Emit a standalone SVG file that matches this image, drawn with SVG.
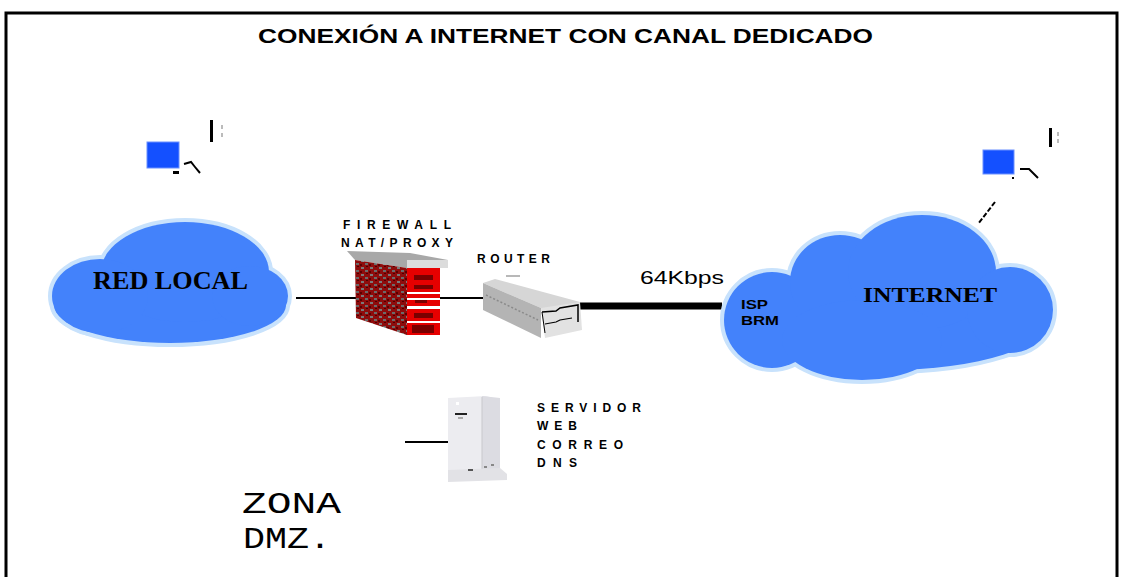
<svg xmlns="http://www.w3.org/2000/svg" width="1122" height="577" viewBox="0 0 1122 577">
  <style>
    .frame { fill: none; stroke: #000; stroke-width: 3; }
    .link { stroke: #000; stroke-width: 2; fill: none; }
    .trunk { stroke: #000; stroke-width: 7; fill: none; }
    .title { font-family: "Liberation Sans", Arial, sans-serif; font-weight: bold; font-size: 20px; fill: #000; }
    .tag { font-family: "Liberation Sans", Arial, sans-serif; font-weight: bold; font-size: 12px; fill: #000; }
    .cloudname { font-family: "Liberation Serif", "Times New Roman", serif; font-weight: bold; fill: #000; }
    .zone { font-family: "Liberation Mono", "Courier New", monospace; font-size: 30px; fill: #000; }
    .halo ellipse { fill: #c8e2fc; stroke: #c8e2fc; stroke-width: 8; }
    .body ellipse { fill: #4382fb; }
    .pc { fill: #1450ff; stroke: #6a90ff; stroke-width: 1; }
  </style>

  <rect class="frame" x="6" y="13" width="1111" height="580"/>

  <text class="title" x="258" y="43" textLength="615" lengthAdjust="spacingAndGlyphs">CONEXIÓN A INTERNET CON CANAL DEDICADO</text>

  <!-- links -->
  <g id="connectors">
    <line class="link" x1="296" y1="298" x2="356" y2="298"/>
    <line class="link" x1="437" y1="298" x2="484" y2="298"/>
    <line class="trunk" x1="578" y1="306" x2="722" y2="306"/>
    <line class="link" x1="405" y1="442" x2="448" y2="442"/>
    <line x1="995" y1="202" x2="978" y2="224" stroke="#000" stroke-width="2" stroke-dasharray="5 2"/>
  </g>

  <!-- local network cloud -->
  <g id="red-local">
    <g class="halo">
      <ellipse cx="170" cy="305" rx="116" ry="38"/>
      <ellipse cx="185" cy="272" rx="84" ry="50"/>
      <ellipse cx="100" cy="296" rx="48" ry="37"/>
      <ellipse cx="250" cy="296" rx="38" ry="30"/>
    </g>
    <g class="body">
      <ellipse cx="170" cy="305" rx="116" ry="38"/>
      <ellipse cx="185" cy="272" rx="84" ry="50"/>
      <ellipse cx="100" cy="296" rx="48" ry="37"/>
      <ellipse cx="250" cy="296" rx="38" ry="30"/>
    </g>
    <text class="cloudname" x="93" y="289" font-size="26" textLength="155" lengthAdjust="spacingAndGlyphs">RED LOCAL</text>
  </g>

  <!-- internet cloud -->
  <g id="internet">
    <g class="halo">
      <ellipse cx="888" cy="318" rx="163" ry="52"/>
      <ellipse cx="772" cy="320" rx="48" ry="48"/>
      <ellipse cx="840" cy="282" rx="50" ry="47"/>
      <ellipse cx="922" cy="272" rx="74" ry="57"/>
      <ellipse cx="1010" cy="310" rx="43" ry="43"/>
      <ellipse cx="862" cy="340" rx="80" ry="40"/>
    </g>
    <g class="body">
      <ellipse cx="888" cy="318" rx="163" ry="52"/>
      <ellipse cx="772" cy="320" rx="48" ry="48"/>
      <ellipse cx="840" cy="282" rx="50" ry="47"/>
      <ellipse cx="922" cy="272" rx="74" ry="57"/>
      <ellipse cx="1010" cy="310" rx="43" ry="43"/>
      <ellipse cx="862" cy="340" rx="80" ry="40"/>
    </g>
    <text class="cloudname" x="863" y="302" font-size="22" textLength="134" lengthAdjust="spacingAndGlyphs">INTERNET</text>
    <text class="tag" x="741" y="309" font-size="10" textLength="27" lengthAdjust="spacingAndGlyphs">ISP</text>
    <text class="tag" x="741" y="325" font-size="10" textLength="38" lengthAdjust="spacingAndGlyphs">BRM</text>
  </g>

  <!-- workstation, local side -->
  <g id="pc-local">
    <rect class="pc" x="147" y="142" width="32" height="26"/>
    <rect x="173" y="171" width="6" height="3" fill="#000"/>
    <polyline points="184,164 191,162 195,167 200,173" fill="none" stroke="#000" stroke-width="2"/>
    <rect x="210" y="120" width="3" height="22" fill="#000"/>
    <rect x="221" y="125" width="2" height="4" fill="#bbb"/>
    <rect x="221" y="133" width="2" height="4" fill="#bbb"/>
  </g>

  <!-- workstation, internet side -->
  <g id="pc-internet">
    <rect class="pc" x="983" y="150" width="31" height="24"/>
    <rect x="1012" y="177" width="2" height="2" fill="#000"/>
    <polyline points="1020,169 1029,169 1033,173 1038,178" fill="none" stroke="#000" stroke-width="2"/>
    <rect x="1049" y="128" width="3" height="19" fill="#000"/>
    <rect x="1057" y="132" width="2" height="4" fill="#bbb"/>
    <rect x="1057" y="139" width="2" height="4" fill="#bbb"/>
  </g>

  <!-- firewall -->
  <g id="firewall">
    <defs>
      <pattern id="brick" width="9" height="7" patternUnits="userSpaceOnUse">
        <rect width="9" height="7" fill="#8e0c0c"/>
        <rect x="1" y="1" width="3" height="2" fill="#7a7a7a"/>
        <rect x="5" y="4" width="3" height="2" fill="#6b6b6b"/>
        <rect x="6" y="0" width="2" height="1" fill="#4a0000"/>
        <rect x="0" y="5" width="2" height="2" fill="#5a0000"/>
      </pattern>
    </defs>
    <text class="tag" x="343" y="229" textLength="108" lengthAdjust="spacing">FIREWALL</text>
    <text class="tag" x="341" y="247" textLength="112" lengthAdjust="spacing">NAT/PROXY</text>
    <polygon points="347,251 410,253 448,260 448,268 407,268 355,260" fill="#a8a8a8"/>
    <polygon points="407,260 448,260 448,268 407,268" fill="#dcdcdc"/>
    <polygon points="355,260 407,268 407,335 356,318" fill="url(#brick)"/>
    <rect x="407" y="268" width="33" height="67" fill="#e60000"/>
    <rect x="414" y="275" width="19" height="5" fill="#7a0000"/>
    <rect x="414" y="285" width="19" height="4" fill="#7a0000"/>
    <rect x="407" y="292" width="33" height="2" fill="#fff"/>
    <rect x="407" y="298" width="33" height="2" fill="#fff"/>
    <rect x="415" y="300" width="12" height="3" fill="#7a0000"/>
    <rect x="407" y="306" width="33" height="3" fill="#fff"/>
    <rect x="414" y="313" width="19" height="5" fill="#7a0000"/>
    <rect x="407" y="321" width="33" height="2" fill="#fff"/>
    <rect x="412" y="325" width="22" height="8" fill="#7a0000"/>
  </g>

  <!-- router -->
  <g id="router">
    <text class="tag" x="477" y="263" textLength="73" lengthAdjust="spacing">ROUTER</text>
    <rect x="506" y="275" width="14" height="2" fill="#b8b8b8"/>
    <polygon points="483,283 495,279 580,302 580,318 541,308" fill="#d6d6d6"/>
    <polygon points="483,283 541,308 541,338 483,310" fill="#b4b4b4"/>
    <line x1="486" y1="295" x2="538" y2="320" stroke="#8a8a8a" stroke-width="1.5" stroke-dasharray="2 2"/>
    <polygon points="541,308 580,302 582,330 545,338" fill="#e2e2e2"/>
    <polyline points="542,312 556,311 560,308 578,305 578,322" fill="none" stroke="#000" stroke-width="1.5"/>
    <polyline points="545,324 556,322 560,320 572,318" fill="none" stroke="#000" stroke-width="1.2"/>
    <line x1="542" y1="312" x2="545" y2="333" stroke="#000" stroke-width="1"/>
    <text x="640" y="284" font-family="Liberation Sans, Arial, sans-serif" font-size="19" textLength="84" lengthAdjust="spacingAndGlyphs" fill="#000">64Kbps</text>
  </g>

  <!-- DMZ server -->
  <g id="server">
    <polygon points="448,398 486,396 500,400 500,470 448,476" fill="#ececf0"/>
    <polygon points="482,396 500,398 500,470 482,474" fill="#dcdce2"/>
    <line x1="482" y1="397" x2="482" y2="474" stroke="#c8c8cc" stroke-width="1"/>
    <polygon points="448,470 500,468 507,474 507,480 448,482" fill="#e2e2e6"/>
    <rect x="456" y="402" width="3" height="3" fill="#fff"/>
    <rect x="455" y="413" width="12" height="2" fill="#222"/>
    <rect x="458" y="417" width="5" height="2" fill="#aaa"/>
    <rect x="468" y="469" width="5" height="2" fill="#555"/>
    <rect x="484" y="466" width="3" height="2" fill="#888"/>
    <rect x="491" y="464" width="3" height="2" fill="#888"/>
    <text class="tag" x="537" y="412" textLength="104" lengthAdjust="spacing">SERVIDOR</text>
    <text class="tag" x="537" y="430" textLength="40" lengthAdjust="spacing">WEB</text>
    <text class="tag" x="537" y="449" textLength="86" lengthAdjust="spacing">CORREO</text>
    <text class="tag" x="537" y="467" textLength="40" lengthAdjust="spacing">DNS</text>
  </g>

  <g id="zona-dmz">
    <text class="zone" x="242" y="513" textLength="99" lengthAdjust="spacingAndGlyphs">ZONA</text>
    <text class="zone" x="243" y="548" textLength="88" lengthAdjust="spacingAndGlyphs">DMZ.</text>
  </g>
</svg>
